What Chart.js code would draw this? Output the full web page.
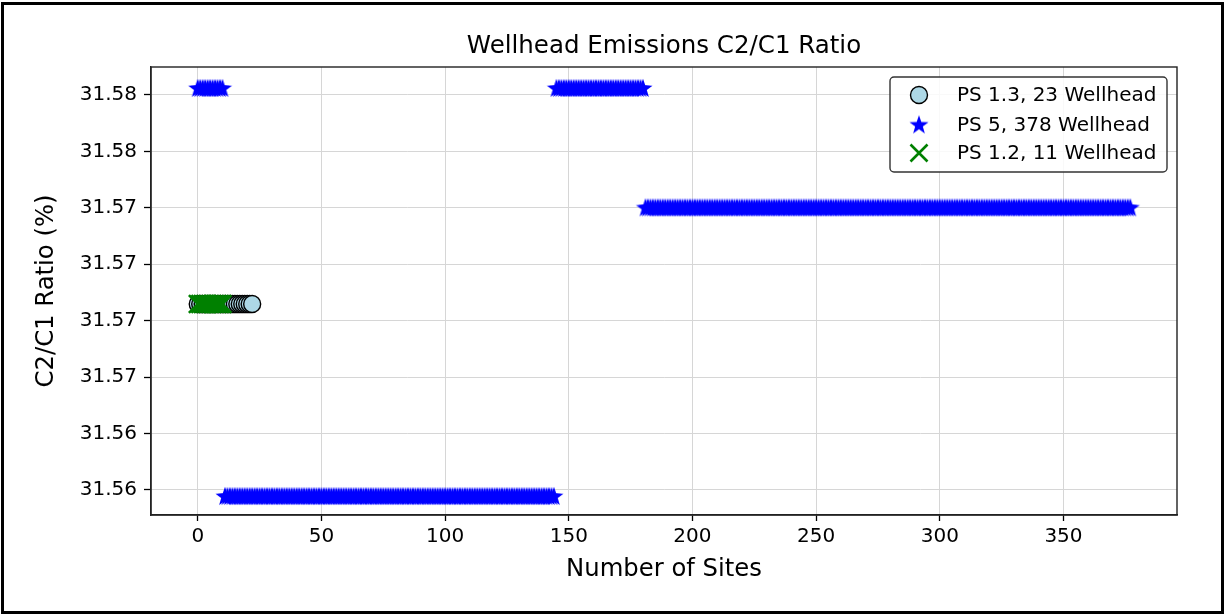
<!DOCTYPE html>
<html>
<head>
<meta charset="utf-8">
<script src="https://cdn.jsdelivr.net/npm/chart.js@4.4.0/dist/chart.umd.min.js"></script>
<style>
  html, body { margin: 0; padding: 0; background: #fff; }
  canvas { display: block; }
</style>
</head>
<body>
<canvas id="ratio_chart_canvas" width="1225" height="615"></canvas>
<script>
// values
var xTickValues = [0, 50, 100, 150, 200, 250, 300, 350];
var yTickValues = [31.5600, 31.5625, 31.5650, 31.5675, 31.5700, 31.5725, 31.5750, 31.5775];
var yTickLabels = ["31.56", "31.56", "31.57", "31.57", "31.57", "31.57", "31.58", "31.58"];

var seriesNames = ["PS 1.3, 23 Wellhead", "PS 5, 378 Wellhead", "PS 1.2, 11 Wellhead"];

// PS 1.3 : one ratio per site (23 sites)
var ps13Ratios = [31.56824, 31.56824, 31.56824, 31.56824, 31.56824, 31.56824, 31.56824, 31.56824,
                  31.56824, 31.56824, 31.56824, 31.56824, 31.56824, 31.56824, 31.56824, 31.56824,
                  31.56824, 31.56824, 31.56824, 31.56824, 31.56824, 31.56824, 31.56824];

// PS 1.2 : one ratio per site (11 sites)
var ps12Ratios = [31.56824, 31.56824, 31.56824, 31.56824, 31.56824, 31.56824,
                  31.56824, 31.56824, 31.56824, 31.56824, 31.56824];

// PS 5 (378 sites) : runs of sites sharing the same ratio
var ps5RunLengths = [11, 134, 36, 197];
var ps5RunRatios  = [31.57781, 31.55973, 31.57781, 31.57252];

function toPoints(list) {
  return list.map(function (v, i) { return { x: i, y: v }; });
}

var ps5Ratios = [];
ps5RunLengths.forEach(function (n, k) {
  for (var i = 0; i < n; i++) ps5Ratios.push(ps5RunRatios[k]);
});

// filled five point star like matplotlib's '*'
function makeStar(size, color) {
  var c = document.createElement("canvas");
  c.width = size; c.height = size;
  var g = c.getContext("2d");
  var cx = size / 2, cy = size / 2 + 0.8, R = 10, r = R * 0.40;
  g.beginPath();
  for (var k = 0; k < 10; k++) {
    var a = -Math.PI / 2 + k * Math.PI / 5;
    var rr = (k % 2) ? r : R;
    g.lineTo(cx + rr * Math.cos(a), cy + rr * Math.sin(a));
  }
  g.closePath();
  g.fillStyle = color;
  g.fill();
  return c;
}
var starImg = makeStar(24, "#0000ff");

var fontFamily = "'DejaVu Sans', sans-serif";

var pageBits = {
  id: "pageBits",
  beforeDraw: function (chart) {
    var ctx = chart.ctx;
    ctx.save();
    ctx.fillStyle = "#fff";
    ctx.fillRect(0, 0, chart.width, chart.height);
    ctx.restore();
  },
  afterDraw: function (chart) {
    var ctx = chart.ctx, a = chart.chartArea;
    ctx.save();
    // plot frame (all four spines)
    ctx.strokeStyle = "#222";
    ctx.lineWidth = 1.4;
    ctx.strokeRect(a.left, a.top, a.right - a.left, a.bottom - a.top);

    // legend
    var lx = 890, ly = 77, lw = 277, lh = 95, rad = 4;
    ctx.beginPath();
    ctx.moveTo(lx + rad, ly);
    ctx.arcTo(lx + lw, ly, lx + lw, ly + lh, rad);
    ctx.arcTo(lx + lw, ly + lh, lx, ly + lh, rad);
    ctx.arcTo(lx, ly + lh, lx, ly, rad);
    ctx.arcTo(lx, ly, lx + lw, ly, rad);
    ctx.closePath();
    ctx.fillStyle = "rgba(255,255,255,0.85)";
    ctx.fill();
    ctx.strokeStyle = "#333";
    ctx.lineWidth = 1.4;
    ctx.stroke();

    var rows = [95, 124.5, 153];
    var mx = 919;
    // circle
    ctx.beginPath();
    ctx.arc(mx, rows[0], 8.5, 0, Math.PI * 2);
    ctx.fillStyle = "#add8e6";
    ctx.fill();
    ctx.strokeStyle = "#000";
    ctx.lineWidth = 1.4;
    ctx.stroke();
    // star
    ctx.drawImage(starImg, mx - 12, rows[1] - 12);
    // x
    ctx.beginPath();
    ctx.moveTo(mx - 8.5, rows[2] - 8.5); ctx.lineTo(mx + 8.5, rows[2] + 8.5);
    ctx.moveTo(mx + 8.5, rows[2] - 8.5); ctx.lineTo(mx - 8.5, rows[2] + 8.5);
    ctx.strokeStyle = "#008000";
    ctx.lineWidth = 2.6;
    ctx.stroke();

    ctx.fillStyle = "#000";
    ctx.font = "20px " + fontFamily;
    ctx.textBaseline = "middle";
    ctx.textAlign = "left";
    for (var i = 0; i < 3; i++) ctx.fillText(seriesNames[i], 957, rows[i] + 1);

    // figure border
    ctx.strokeStyle = "#000";
    ctx.lineWidth = 3;
    ctx.strokeRect(2.5, 3.5, 1220, 609);
    ctx.restore();
  }
};

var context = document.getElementById("ratio_chart_canvas").getContext("2d");

var chart = new Chart(context, {
  type: "scatter",
  data: {
    datasets: [{
      label: seriesNames[0],
      data: toPoints(ps13Ratios),
      pointStyle: "circle",
      pointRadius: 8.5,
      backgroundColor: "#add8e6",
      borderColor: "#000",
      borderWidth: 1.4,
      order: 3
    }, {
      label: seriesNames[1],
      data: toPoints(ps5Ratios),
      pointStyle: starImg,
      backgroundColor: "#0000ff",
      borderColor: "#0000ff",
      order: 2
    }, {
      label: seriesNames[2],
      data: toPoints(ps12Ratios),
      pointStyle: "crossRot",
      pointRadius: 12.5,
      borderColor: "#008000",
      backgroundColor: "#008000",
      borderWidth: 2.6,
      order: 1
    }]
  },
  options: {
    responsive: false,
    animation: false,
    devicePixelRatio: 1,
    layout: { padding: { left: 0, right: 48, top: 0, bottom: 0 } },
    plugins: {
      legend: { display: false },
      tooltip: { enabled: false },
      title: { display: false }
    },
    scales: {
      // top axis only carries the chart title, centred over the plot area
      top: {
        type: "linear",
        position: "top",
        min: -18.9,
        max: 395.9,
        afterFit: function (s) { s.height = 67; },
        grid: { display: false, drawTicks: false },
        border: { display: false },
        ticks: { display: false },
        title: {
          display: true,
          text: "Wellhead Emissions C2/C1 Ratio",
          color: "#000",
          font: { family: fontFamily, size: 24.5 },
          padding: { top: 32, bottom: 0 }
        }
      },
      x: {
        type: "linear",
        position: "bottom",
        min: -18.9,
        max: 395.9,
        afterBuildTicks: function (s) { s.ticks = xTickValues.map(function (v) { return { value: v }; }); },
        afterFit: function (s) { s.height = 100; },
        grid: { color: "#d6d6d6", lineWidth: 1, tickColor: "#000", tickLength: 6, tickWidth: 1.3 },
        border: { color: "#222", width: 1.4 },
        ticks: {
          color: "#000", padding: 4, maxRotation: 0, autoSkip: false,
          font: { family: fontFamily, size: 20 }
        },
        title: {
          display: true, text: "Number of Sites", color: "#000",
          font: { family: fontFamily, size: 24.3 },
          padding: { top: 0, bottom: 31 }
        }
      },
      y: {
        type: "linear",
        min: 31.55889,
        max: 31.57874,
        afterBuildTicks: function (s) { s.ticks = yTickValues.map(function (v) { return { value: v }; }); },
        afterFit: function (s) { s.width = 151; },
        grid: { color: "#d6d6d6", lineWidth: 1, tickColor: "#000", tickLength: 7, tickWidth: 1.3 },
        border: { color: "#222", width: 1.4 },
        ticks: {
          color: "#000", padding: 7, autoSkip: false,
          font: { family: fontFamily, size: 20 },
          callback: function (value, index) { return yTickLabels[index]; }
        },
        title: {
          display: true, text: "C2/C1 Ratio (%)", color: "#000",
          font: { family: fontFamily, size: 24.3 },
          padding: { top: 32, bottom: 0 }
        }
      }
    }
  },
  plugins: [pageBits]
});
</script>
</body>
</html>
